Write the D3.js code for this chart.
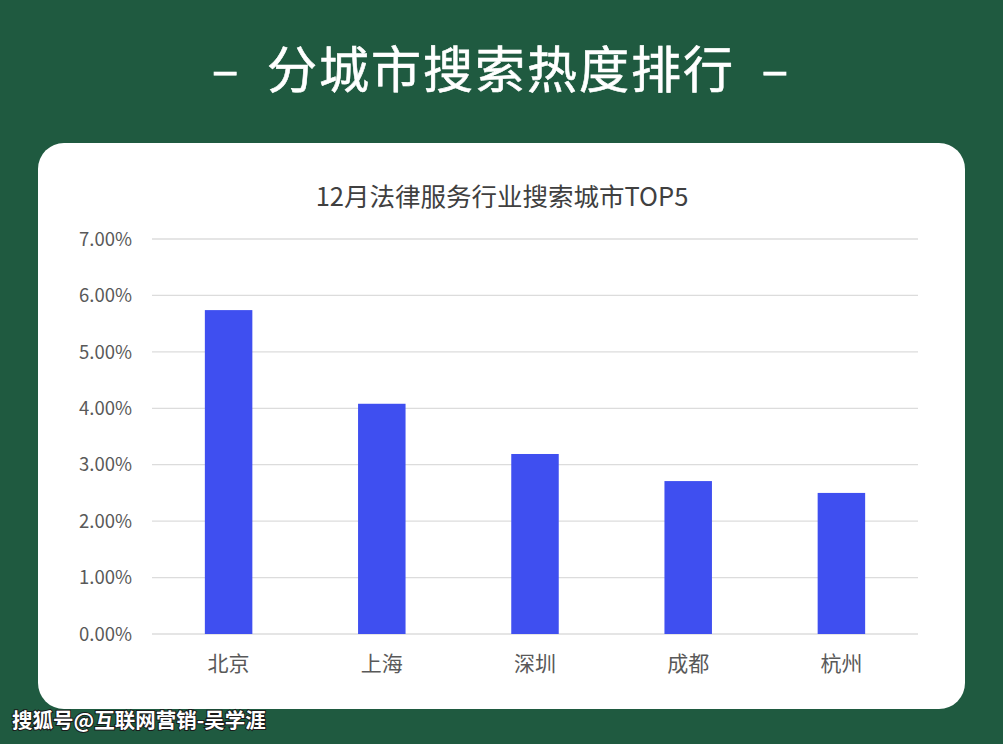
<!DOCTYPE html>
<html><head><meta charset="utf-8">
<script src="https://cdn.jsdelivr.net/npm/d3@7"></script>
<style>
html,body{margin:0;padding:0;background:#1f5a40;}
svg{display:block;}
</style></head>
<body>
<svg id="c" width="1003" height="744"></svg>
<script>
const categories = ["北京","上海","深圳","成都","杭州"];
const values = [0.0574, 0.0408, 0.0319, 0.0271, 0.0250];
const yTicks = [0,0.01,0.02,0.03,0.04,0.05,0.06,0.07];
const pageTitle = "–  分城市搜索热度排行  –";
const chartTitle = "12月法律服务行业搜索城市TOP5";
const watermark = "搜狐号@互联网营销-吴学涯";

const svg = d3.select("#c");
const font = "'Noto Sans CJK SC','Noto Sans',sans-serif";

svg.append("rect").attr("width",1003).attr("height",744).attr("fill","#1f5a40");

svg.append("text").attr("x",501).attr("y",88).attr("text-anchor","middle")
  .attr("font-family",font).attr("font-size",50).attr("font-weight",400).attr("fill","#ffffff")
  .attr("stroke","#ffffff").attr("stroke-width",0.6)
  .attr("letter-spacing",2).style("white-space","pre").text(pageTitle);

svg.append("rect").attr("x",38).attr("y",143).attr("width",927).attr("height",566)
  .attr("rx",26).attr("fill","#ffffff");

svg.append("text").attr("x",502).attr("y",206).attr("text-anchor","middle")
  .attr("font-family",font).attr("font-size",25.5).attr("fill","#404040").text(chartTitle);

const x = d3.scaleBand().domain(categories).range([152,918]).paddingInner(0.69).paddingOuter(0.345);
const y = d3.scaleLinear().domain([0,0.07]).range([634,239]);

const g = svg.append("g");
g.selectAll("line.grid").data(yTicks).join("line").attr("class","grid")
  .attr("x1",152).attr("x2",918).attr("y1",d=>y(d)).attr("y2",d=>y(d))
  .attr("stroke","#dcdcdc").attr("stroke-width",1.3);

g.selectAll("text.yl").data(yTicks).join("text").attr("class","yl")
  .attr("x",132).attr("y",d=>y(d)).attr("dy","0.36em").attr("text-anchor","end")
  .attr("font-family",font).attr("font-size",18.5).attr("fill","#595959")
  .text(d=>d3.format(".2%")(d));

g.selectAll("rect.bar").data(values).join("rect").attr("class","bar")
  .attr("x",(d,i)=>x(categories[i])).attr("width",x.bandwidth())
  .attr("y",d=>y(d)).attr("height",d=>y(0)-y(d)).attr("fill","#3f4ff0");

g.selectAll("text.xl").data(categories).join("text").attr("class","xl")
  .attr("x",d=>x(d)+x.bandwidth()/2).attr("y",671).attr("text-anchor","middle")
  .attr("font-family",font).attr("font-size",21).attr("fill","#595959").text(d=>d);

const wm = svg.append("text").attr("x",12).attr("y",728)
  .attr("font-family",font).attr("font-size",20.5).attr("font-weight","bold").text(watermark);
wm.attr("fill","#ffffff").style("paint-order","stroke").attr("stroke","#1a1a1a").attr("stroke-width",2);
</script>
</body></html>
